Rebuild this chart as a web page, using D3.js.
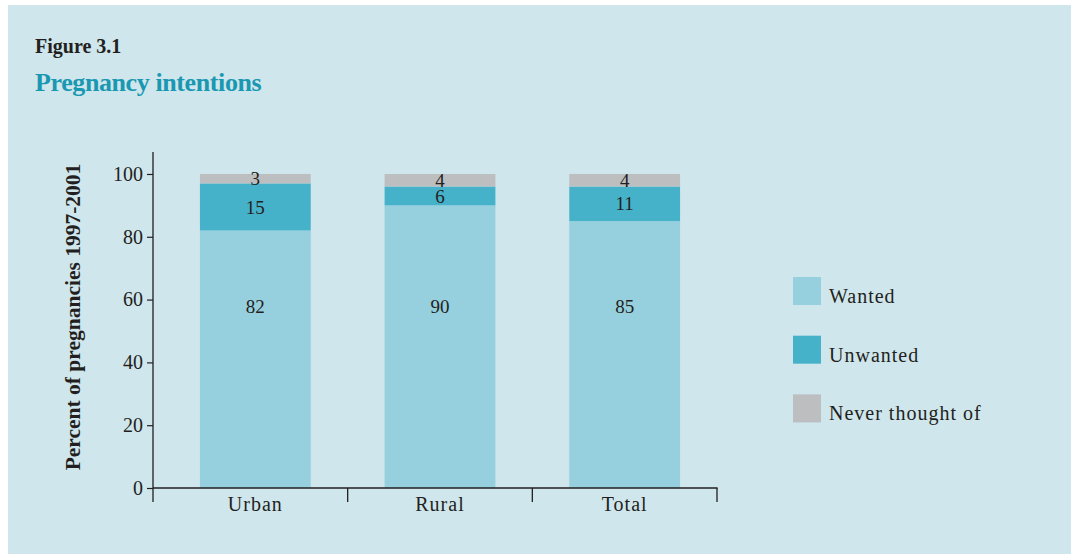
<!DOCTYPE html>
<html><head><meta charset="utf-8">
<script src="https://cdn.jsdelivr.net/npm/d3@7"></script>
<style>
html,body{margin:0;padding:0;background:#fff;}
svg{display:block;}
text{font-family:"Liberation Serif","DejaVu Serif",serif;fill:#231f20;}
</style></head>
<body>
<svg id="c" width="1071" height="554"></svg>
<script>
const categories = ["Urban", "Rural", "Total"];
const seriesNames = ["Wanted", "Unwanted", "Never thought of"];
const wanted = [82, 90, 85];
const unwanted = [15, 6, 11];
const neverThought = [3, 4, 4];
const yTicks = [0, 20, 40, 60, 80, 100];
const colors = ["#96cfdd", "#46b2ca", "#bcbec0"];

const svg = d3.select("#c");
svg.append("rect").attr("x", 8).attr("y", 5).attr("width", 1063).attr("height", 549).attr("fill", "#cfe6ec");

svg.append("text").attr("x", 35).attr("y", 53).style("font-size", "20px").attr("font-weight", "bold").text("Figure 3.1");
svg.append("text").attr("x", 35).attr("y", 91).style("font-size", "26px").attr("font-weight", "bold")
  .style("fill", "#1a98b2").attr("letter-spacing", "-0.4").text("Pregnancy intentions");

const x0 = 153, xEnd = 717;
const x = d3.scaleBand().domain(categories).range([163, xEnd]).padding(0);
const y = d3.scaleLinear().domain([0, 107]).range([488, 152]);

const table = categories.map((c, i) => ({cat: c, Wanted: wanted[i], Unwanted: unwanted[i], "Never thought of": neverThought[i]}));
const stack = d3.stack().keys(seriesNames)(table);

const barW = x.bandwidth() * 0.6;
const g = svg.append("g");
stack.forEach((layer, li) => {
  g.selectAll(null).data(layer).enter().append("rect")
    .attr("x", d => x(d.data.cat) + (x.bandwidth() - barW) / 2)
    .attr("width", barW)
    .attr("y", d => y(d[1]))
    .attr("height", d => y(d[0]) - y(d[1]))
    .attr("fill", colors[li]);
});
// value labels
stack.forEach((layer, li) => {
  g.selectAll(null).data(layer).enter().append("text")
    .attr("x", d => x(d.data.cat) + x.bandwidth() / 2)
    .attr("y", d => li === 0 ? y(58) : y((d[0] + d[1]) / 2))
    .attr("dy", "0.35em")
    .attr("text-anchor", "middle")
    .style("font-size", "19px")
    .text(d => d[1] - d[0]);
});

// y axis
const yAxis = d3.axisLeft(y).tickValues(yTicks).tickSize(6).tickPadding(4).tickSizeOuter(0);
const ya = svg.append("g").attr("transform", `translate(${x0},0)`).call(yAxis);
ya.attr("font-family", null).attr("font-size", null);
ya.select(".domain").attr("stroke", "#231f20").attr("stroke-width", 1.3).attr("d", `M0,${y(107)}V502`);
ya.selectAll(".tick line").attr("stroke", "#231f20").attr("stroke-width", 1.2);
ya.selectAll(".tick text").style("font-family", "'Liberation Serif', serif").style("font-size", "20px").style("fill", "#231f20");

// x axis
const xa = svg.append("g");
xa.append("line").attr("x1", x0).attr("x2", xEnd + 0.6).attr("y1", y(0)).attr("y2", y(0))
  .attr("stroke", "#231f20").attr("stroke-width", 1.6);
const bounds = categories.map(c => x(c) + x.bandwidth());
xa.selectAll(null).data(bounds).enter().append("line")
  .attr("x1", d => d).attr("x2", d => d).attr("y1", y(0)).attr("y2", 502)
  .attr("stroke", "#231f20").attr("stroke-width", 1.3);
xa.selectAll(null).data(categories).enter().append("text")
  .attr("x", d => x(d) + x.bandwidth() / 2).attr("y", 511)
  .attr("text-anchor", "middle").style("font-size", "20px").attr("letter-spacing", "1").text(d => d);

// y title
svg.append("text").attr("transform", "translate(80,317) rotate(-90)")
  .attr("text-anchor", "middle").style("font-size", "21.5px").attr("font-weight", "bold").text("Percent of pregnancies 1997-2001");

// legend
const leg = svg.append("g");
seriesNames.forEach((s, i) => {
  const ly = 277 + i * 58.7;
  leg.append("rect").attr("x", 793).attr("y", ly).attr("width", 28).attr("height", 28).attr("fill", colors[i]);
  leg.append("text").attr("x", 829).attr("y", ly + 26).style("font-size", "20px").attr("letter-spacing", "1").text(s);
});
</script>
</body></html>
